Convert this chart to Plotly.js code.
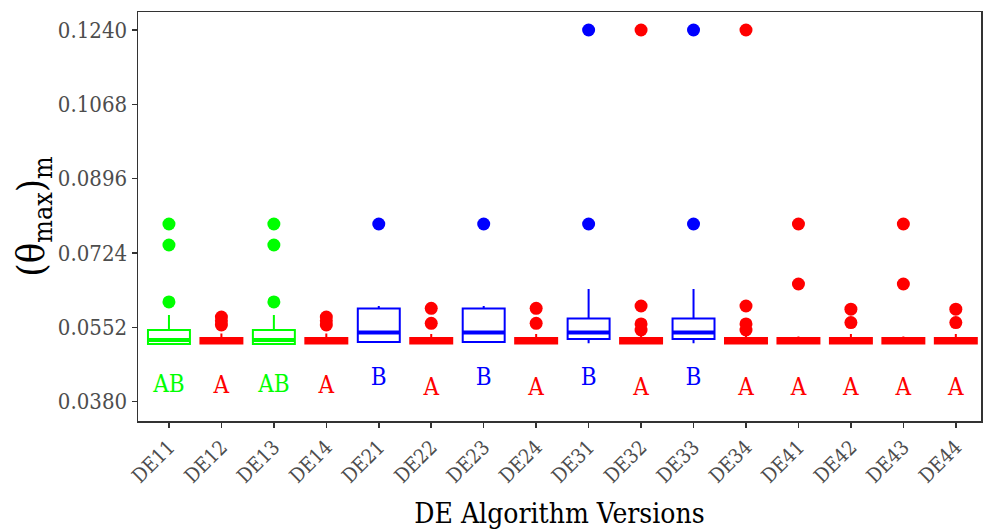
<!DOCTYPE html>
<html>
<head>
<meta charset="utf-8">
<script src="https://cdn.plot.ly/plotly-3.0.1.min.js"></script>
<style>html,body{margin:0;padding:0;background:#fff;}#chart{width:986px;height:530px;}</style>
</head>
<body>
<div id="chart"></div>
<script>
// ---- data ----
const categories = ["DE11","DE12","DE13","DE14","DE21","DE22","DE23","DE24","DE31","DE32","DE33","DE34","DE41","DE42","DE43","DE44"];
const groupColor = ["#00FF00","#FF0000","#00FF00","#FF0000","#0000FF","#FF0000","#0000FF","#FF0000","#0000FF","#FF0000","#0000FF","#FF0000","#FF0000","#FF0000","#FF0000","#FF0000"];
const lowerFence = [0.05135,0.05146,0.05135,0.05146,0.05181,0.05146,0.05181,0.05146,0.05151,0.05146,0.05151,0.05146,0.05146,0.05146,0.05146,0.05146];
const q1Values   = [0.05135,0.05146,0.05135,0.05146,0.05181,0.05146,0.05181,0.05146,0.05251,0.05146,0.05251,0.05146,0.05146,0.05146,0.05146,0.05146];
const medianVals = [0.05227,0.05204,0.05227,0.05204,0.05401,0.05204,0.05401,0.05204,0.05401,0.05204,0.05401,0.05204,0.05204,0.05204,0.05204,0.05204];
const q3Values   = [0.05459,0.05274,0.05459,0.05274,0.05956,0.05274,0.05956,0.05274,0.05725,0.05274,0.05725,0.05274,0.05274,0.05274,0.05274,0.05274];
const upperFence = [0.05806,0.05378,0.05806,0.05378,0.06014,0.05366,0.06014,0.05366,0.06407,0.05366,0.06407,0.05366,0.05308,0.05366,0.05308,0.05366];
const outliers = [
  [0.07911,0.07425,0.06107],
  [0.05759,0.05670,0.05574],
  [0.07911,0.07425,0.06107],
  [0.05759,0.05670,0.05574],
  [0.07911],
  [0.05961,0.05614],
  [0.07911],
  [0.05961,0.05614],
  [0.12400,0.07911],
  [0.12400,0.06014,0.05598,0.05459],
  [0.12400,0.07911],
  [0.12400,0.06014,0.05598,0.05459],
  [0.07911,0.06523],
  [0.05940,0.05630],
  [0.07911,0.06523],
  [0.05940,0.05630]
];
const letters = ["AB","A","AB","A","B","A","B","A","B","A","B","A","A","A","A","A"];
const letterY = [0.04163,0.04130,0.04163,0.04130,0.04325,0.04105,0.04325,0.04105,0.04325,0.04105,0.04325,0.04105,0.04105,0.04105,0.04105,0.04105];
const yTicks = [0.0380,0.0552,0.0724,0.0896,0.1068,0.1240];

// ---- traces ----
const FONT = "'DejaVu Serif Condensed', 'DejaVu Serif', serif";
const BOXW = 0.8;
const traces = [];
categories.forEach((c, i) => {
  traces.push({
    type: "box", x: [i], q1: [q1Values[i]], median: [medianVals[i]], q3: [q3Values[i]],
    lowerfence: [lowerFence[i]], upperfence: [upperFence[i]],
    width: BOXW, whiskerwidth: 0, boxpoints: false,
    line: {color: groupColor[i], width: 2}, fillcolor: "rgba(255,255,255,0)",
    hoverinfo: "skip", showlegend: false
  });
  traces.push({
    type: "scatter", mode: "lines", x: [i - BOXW/2, i + BOXW/2], y: [medianVals[i], medianVals[i]],
    line: {color: groupColor[i], width: 4}, hoverinfo: "skip", showlegend: false
  });
  traces.push({
    type: "scatter", mode: "markers", x: outliers[i].map(() => i), y: outliers[i],
    marker: {color: groupColor[i], size: 13}, hoverinfo: "skip", showlegend: false
  });
  traces.push({
    type: "scatter", mode: "text", x: [i], y: [letterY[i]], text: [letters[i]],
    textfont: {family: FONT, size: 24, color: groupColor[i]}, textposition: "middle center",
    hoverinfo: "skip", showlegend: false
  });
});

const layout = {
  width: 986, height: 530,
  margin: {l: 138, r: 5, t: 12, b: 109},
  paper_bgcolor: "#fff", plot_bgcolor: "#fff",
  boxmode: "overlay", showlegend: false,
  xaxis: {
    range: [-0.59, 15.48], tickmode: "array",
    tickvals: categories.map((c, i) => i), ticktext: categories,
    tickangle: -45, ticks: "outside", ticklen: 5, tickwidth: 1.5, tickcolor: "#333",
    showgrid: false, zeroline: false, showline: true, mirror: true, linecolor: "#333", linewidth: 1.5,
    tickfont: {family: FONT, size: 20, color: "#4d4d4d"},
    title: {text: "DE Algorithm Versions", font: {family: FONT, size: 28, color: "#000"}, standoff: 16}
  },
  yaxis: {
    range: [0.03353, 0.12816], tickmode: "array", tickvals: yTicks,
    ticktext: yTicks.map(v => v.toFixed(4)),
    ticks: "outside", ticklen: 5, tickwidth: 1.5, tickcolor: "#333",
    showgrid: false, zeroline: false, showline: true, mirror: true, linecolor: "#333", linewidth: 1.5,
    tickfont: {family: FONT, size: 22, color: "#4d4d4d"},
    title: {text: "(θ<sub>max</sub>)<sub>m</sub>", font: {family: FONT, size: 38, color: "#000"}, standoff: 0}
  }
};

Plotly.newPlot("chart", traces, layout, {staticPlot: true, displayModeBar: false});
</script>
</body>
</html>
